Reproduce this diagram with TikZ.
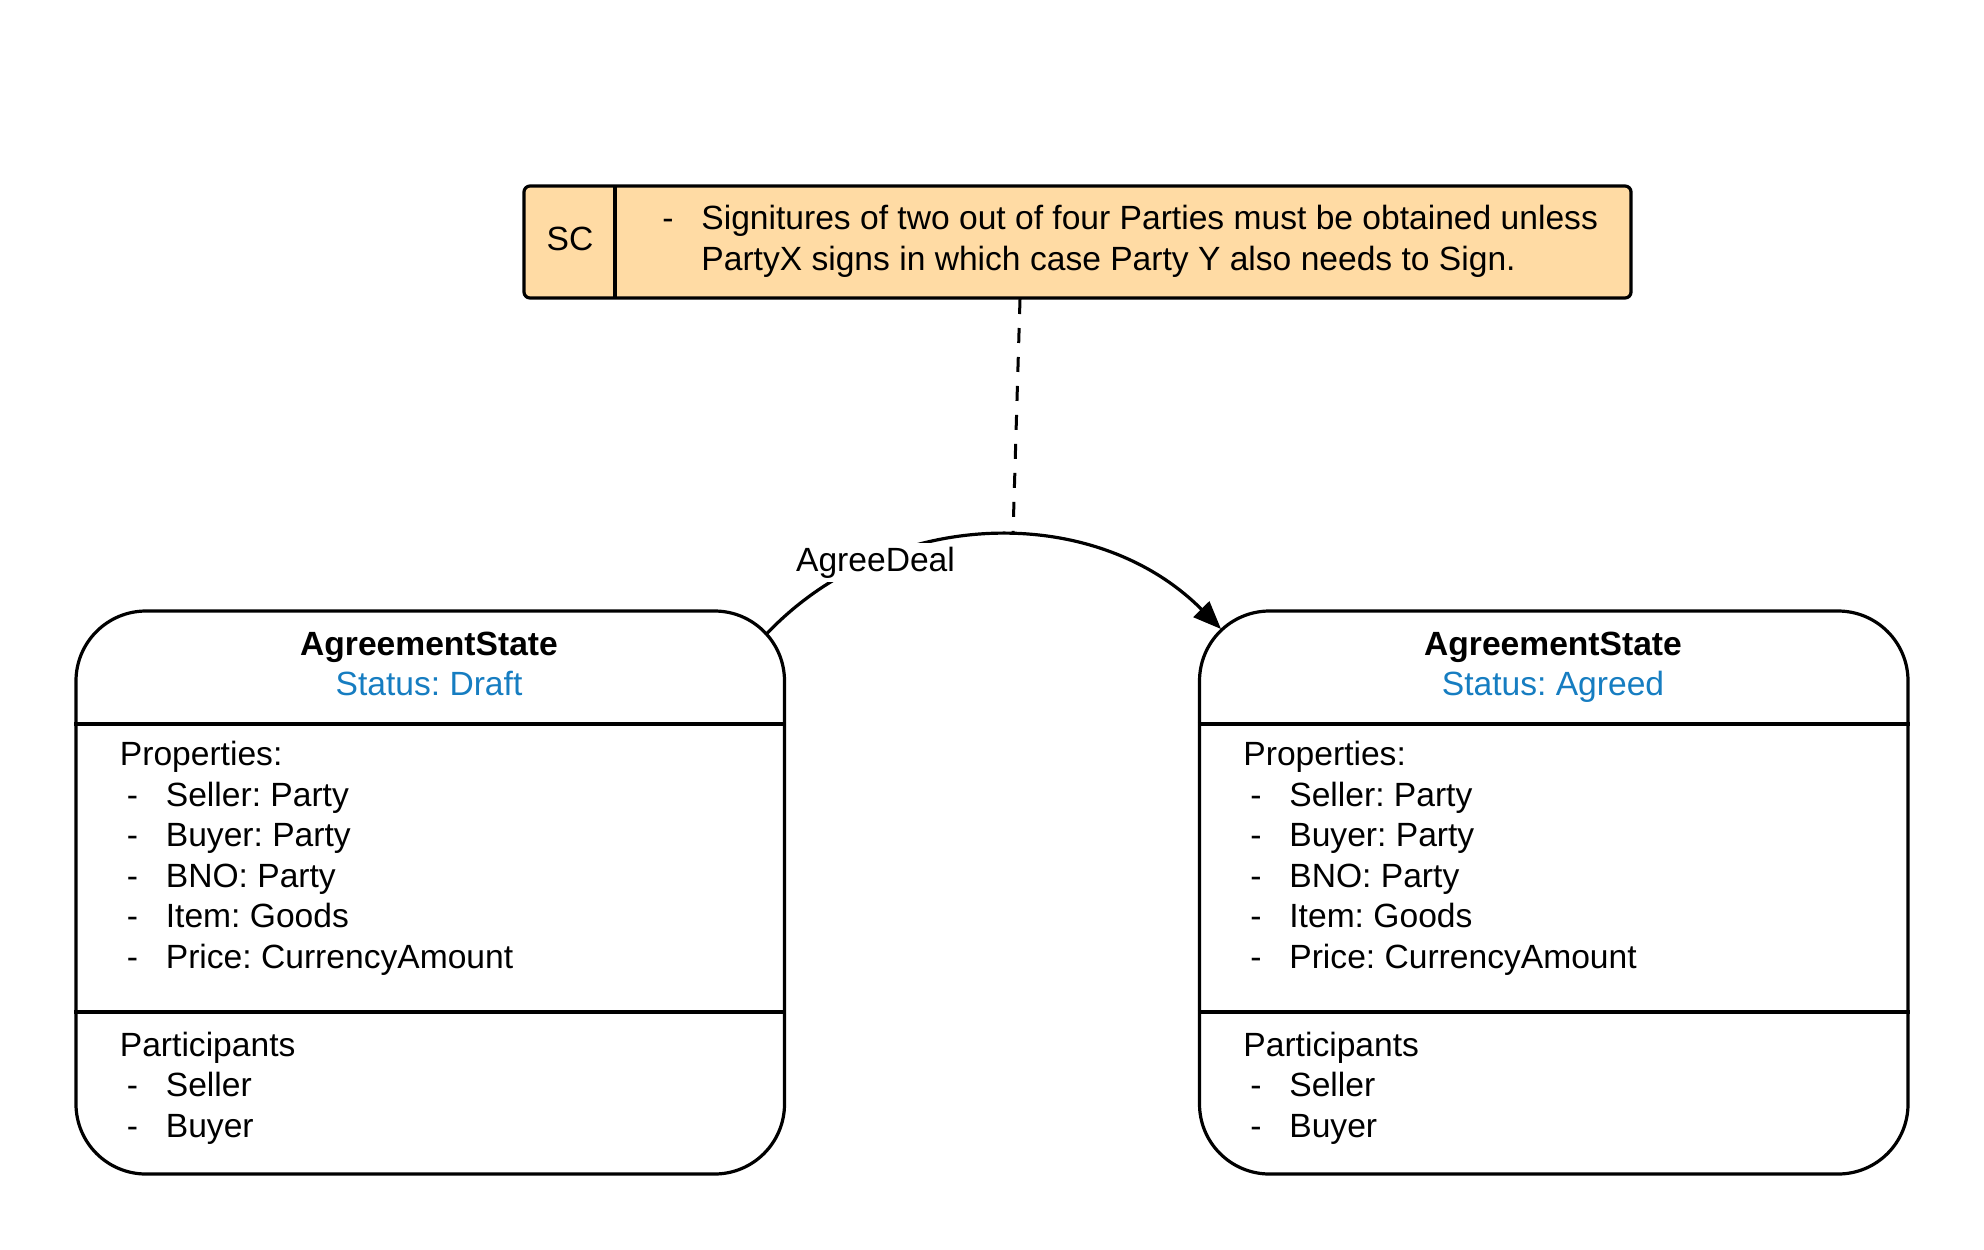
\documentclass[tikz,border=0pt]{standalone}
\usepackage{fontspec}
\setmainfont{Liberation Sans}
\usetikzlibrary{arrows.meta,positioning}
\definecolor{scfill}{RGB}{255,219,164}
\definecolor{statusblue}{RGB}{22,125,193}
\newcommand{\dashitem}[1]{\makebox[23pt][l]{\hspace{3.5pt}-}#1}
\tikzset{
    statebox/.style ={
        shape=rectangle,
        rounded corners=35pt,
        draw=black,
        line width=1.6pt,
        minimum width=354.25pt,
        minimum height=281.5pt,
        inner sep=0pt
    },
    scbox/.style ={
        shape=rectangle,
        rounded corners=3pt,
        draw=black,
        fill=scfill,
        line width=1.6pt,
        minimum width=553.5pt,
        minimum height=56pt,
        inner sep=0pt
    },
    plain/.style ={
        inner sep=0pt,
        font=\fontsize{16.8}{20.25}\selectfont
    },
    listtext/.style ={
        plain,
        anchor=base west,
        align=left
    },
    title/.style ={
        plain,
        anchor=base,
        font=\fontsize{16.8}{20.25}\selectfont\bfseries
    },
    status/.style ={
        plain,
        anchor=base,
        text=statusblue
    },
    flow/.style ={
        line width=1.6pt,
        -{Triangle[length=14pt,width=11pt]}
    },
    link/.style ={
        line width=1.5pt,
        dash pattern=on 7.5pt off 7pt
    }
}
\frenchspacing

\begin{document}
\begin{tikzpicture}[x=0.5pt,y=-0.5pt]
    \useasboundingbox (0,0) rectangle (1984,1249);

    % smart contract note (last line baseline)
    \node[scbox] (sc) at (1077.5,242) {};
    \draw[line width=1.6pt] (615,186) -- (615,298);
    \node[plain,anchor=base] (sclabel) at (570,250) {SC};
    \node[listtext] (sctext) at (655,270) {\dashitem{Signitures of two out of four Parties must be obtained unless}\\\hspace{23pt}PartyX signs in which case Party Y also needs to Sign.};

    % draft state
    \node[statebox] (draft) at (430.25,892.5) {};
    \draw[line width=1.6pt] (draft.west |- 0,724) -- (draft.east |- 0,724);
    \draw[line width=1.6pt] (draft.west |- 0,1012) -- (draft.east |- 0,1012);
    \node[title] (drafttitle) at (429,655) {AgreementState};
    \node[status] (draftstatus) at (429,695) {Status: Draft};
    \node[listtext] (draftprops) at (119.5,968) {Properties:\\\dashitem{Seller: Party}\\\dashitem{Buyer: Party}\\\dashitem{BNO: Party}\\\dashitem{Item: Goods}\\\dashitem{Price: CurrencyAmount}};
    \node[listtext] (draftparts) at (119.5,1137) {Participants\\\dashitem{Seller}\\\dashitem{Buyer}};

    % agreed state
    \node[statebox] (agreed) at (1553.75,892.5) {};
    \draw[line width=1.6pt] (agreed.west |- 0,724) -- (agreed.east |- 0,724);
    \draw[line width=1.6pt] (agreed.west |- 0,1012) -- (agreed.east |- 0,1012);
    \node[title] (agreedtitle) at (1553,655) {AgreementState};
    \node[status] (agreedstatus) at (1553,695) {Status: Agreed};
    \node[listtext] (agreedprops) at (1243,968) {Properties:\\\dashitem{Seller: Party}\\\dashitem{Buyer: Party}\\\dashitem{BNO: Party}\\\dashitem{Item: Goods}\\\dashitem{Price: CurrencyAmount}};
    \node[listtext] (agreedparts) at (1243,1137) {Participants\\\dashitem{Seller}\\\dashitem{Buyer}};

    % transition
    \coordinate (dealstart) at (765.5,635);
    \coordinate (dealend) at (1221,629);
    \draw[flow] (dealstart) to[bend left=46] (dealend);
    \node[plain,anchor=base,fill=white,inner sep=2pt] (agreedeal) at (875.5,571) {AgreeDeal};

    \coordinate (scfoot) at (1020,299);
    \coordinate (dealtop) at (1013,534);
    \draw[link] (scfoot) -- (dealtop);
\end{tikzpicture}
\end{document}
